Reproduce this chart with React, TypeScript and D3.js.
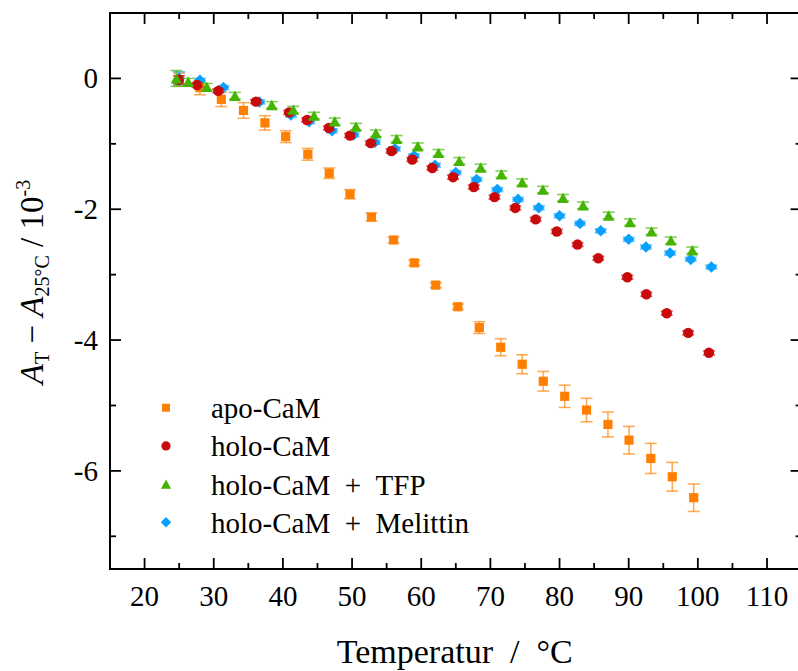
import React from "react";
import * as d3 from "d3";

// ---- data ----
const apoT = [25.0, 28.0, 31.1, 34.3, 37.4, 40.4, 43.6, 46.7, 49.7, 52.8, 56.0, 59.0, 62.1, 65.3, 68.4, 71.5, 74.6, 77.65, 80.75, 83.9, 87.0, 90.05, 93.2, 96.3, 99.4];
const apoY = [-0.02, -0.14, -0.32, -0.49, -0.68, -0.89, -1.16, -1.45, -1.77, -2.12, -2.47, -2.82, -3.16, -3.49, -3.81, -4.11, -4.37, -4.63, -4.86, -5.07, -5.29, -5.53, -5.81, -6.09, -6.41];
const apoErr = [0.1, 0.11, 0.11, 0.12, 0.11, 0.09, 0.09, 0.08, 0.07, 0.06, 0.045, 0.04, 0.04, 0.04, 0.09, 0.13, 0.145, 0.15, 0.17, 0.18, 0.19, 0.21, 0.23, 0.22, 0.21];

const holoT = [24.96, 27.6, 30.65, 36.1, 40.9, 43.5, 46.65, 49.7, 52.7, 55.7, 58.7, 61.6, 64.6, 67.6, 70.6, 73.6, 76.55, 79.6, 82.6, 85.6, 89.8, 92.55, 95.5, 98.6, 101.6];
const holoY = [-0.02, -0.1, -0.19, -0.355, -0.52, -0.635, -0.757, -0.874, -0.99, -1.11, -1.24, -1.37, -1.51, -1.66, -1.815, -1.98, -2.155, -2.34, -2.54, -2.75, -3.04, -3.3, -3.59, -3.89, -4.195];
const holoErr = [0.06, 0.03, 0.03, 0.03, 0.03, 0.03, 0.03, 0.03, 0.03, 0.03, 0.03, 0.03, 0.03, 0.03, 0.03, 0.03, 0.03, 0.03, 0.03, 0.03, 0.03, 0.03, 0.03, 0.03, 0.03];

const tfpT = [24.6, 26.3, 29.0, 33.06, 38.4, 41.5, 44.5, 47.5, 50.56, 53.45, 56.45, 59.5, 62.5, 65.5, 68.6, 71.6, 74.6, 77.6, 80.5, 83.4, 87.1, 90.2, 93.3, 96.1, 99.2];
const tfpY = [0.0, -0.05, -0.127, -0.264, -0.406, -0.477, -0.569, -0.656, -0.737, -0.839, -0.924, -1.037, -1.138, -1.26, -1.362, -1.465, -1.587, -1.7, -1.825, -1.94, -2.095, -2.197, -2.339, -2.476, -2.628];
const tfpErr = [0.12, 0.05, 0.05, 0.05, 0.05, 0.05, 0.05, 0.05, 0.05, 0.05, 0.05, 0.05, 0.05, 0.05, 0.05, 0.05, 0.05, 0.05, 0.05, 0.05, 0.05, 0.05, 0.05, 0.05, 0.05];

const melT = [25.0, 28.0, 31.4, 36.6, 41.15, 43.8, 47.1, 50.2, 53.3, 56.2, 58.95, 61.99, 65.0, 68.0, 71.0, 74.0, 77.0, 80.0, 82.96, 85.95, 90.0, 92.5, 95.98, 98.97, 101.95];
const melY = [0.0, -0.03, -0.14, -0.36, -0.56, -0.66, -0.8, -0.863, -0.976, -1.077, -1.184, -1.327, -1.44, -1.545, -1.7, -1.85, -1.977, -2.1, -2.217, -2.33, -2.46, -2.578, -2.67, -2.766, -2.883];
const melErr = [0.1, 0.03, 0.03, 0.03, 0.03, 0.03, 0.03, 0.03, 0.03, 0.03, 0.03, 0.03, 0.03, 0.03, 0.03, 0.03, 0.03, 0.03, 0.03, 0.03, 0.03, 0.03, 0.03, 0.03, 0.03];

const xMajorTicks = [20, 30, 40, 50, 60, 70, 80, 90, 100, 110];
const xMinorTicks = [25, 35, 45, 55, 65, 75, 85, 95, 105];
const yMajorTicks = [0, -2, -4, -6];
const yMinorTicks = [1, -1, -3, -5, -7];

const seriesNames = ["apo-CaM", "holo-CaM", "holo-CaM\u2002+\u2002TFP", "holo-CaM\u2002+\u2002Melittin"];

const W = 798;
const H = 671;
const left = 110;
const top = 13;
const right = 801.6;
const bottom = 569;

const FONT =
  '"Liberation Serif", Tinos, "Nimbus Roman", "Nimbus Roman No9 L", FreeSerif, "Times New Roman", Times, "Noto Serif", "DejaVu Serif", "Bitstream Vera Serif", Georgia, serif';

const COL = {
  apo: "#ff8000",
  holo: "#c80a0a",
  tfp: "#44b400",
  mel: "#0aa0ff",
};

function markerPath(shape: string, r: number): string {
  const p = d3.path();
  if (shape === "square") {
    p.rect(-r, -r, 2 * r, 2 * r);
  } else if (shape === "circle") {
    p.arc(0, 0, r, 0, Math.PI * 2);
  } else if (shape === "triangle") {
    p.moveTo(0, -r);
    p.lineTo(r * 1.1, r);
    p.lineTo(-r * 1.1, r);
    p.closePath();
  } else {
    p.moveTo(0, -r);
    p.lineTo(r, 0);
    p.lineTo(0, r);
    p.lineTo(-r, 0);
    p.closePath();
  }
  return p.toString();
}

export default function App() {
  const x = d3.scaleLinear().domain([15, 115]).range([left, right]);
  const y = d3.scaleLinear().domain([-7.5, 1]).range([bottom, top]);

  const series = [
    { key: "apo", T: apoT, Y: apoY, E: apoErr, color: COL.apo, shape: "square", r: 4.6, cap: 6 },
    { key: "mel", T: melT, Y: melY, E: melErr, color: COL.mel, shape: "diamond", r: 5.8, cap: 6 },
    { key: "holo", T: holoT, Y: holoY, E: holoErr, color: COL.holo, shape: "circle", r: 5.2, cap: 6 },
    { key: "tfp", T: tfpT, Y: tfpY, E: tfpErr, color: COL.tfp, shape: "triangle", r: 5.2, cap: 6 },
  ];

  const legend = [
    { color: COL.apo, shape: "square", r: 4 },
    { color: COL.holo, shape: "circle", r: 4.6 },
    { color: COL.tfp, shape: "triangle", r: 4.6 },
    { color: COL.mel, shape: "diamond", r: 5.2 },
  ];
  const legendY = d3.scaleLinear().domain([0, 3]).range([407.7, 522.3]);

  const txt = { fontFamily: FONT };

  return (
    <svg
      width={W}
      height={H}
      style={{ position: "absolute", left: 0, top: 0, background: "#fff", fontFamily: FONT }}
    >
      <rect x={0} y={0} width={W} height={H} fill="#fff" />
      {/* data */}
      {series.map((s) => (
        <g key={s.key}>
          {s.T.map((t, i) => {
            const cx = x(t);
            const y1 = y(s.Y[i] + s.E[i]);
            const y2 = y(s.Y[i] - s.E[i]);
            return (
              <g key={"e" + i} stroke={s.color} strokeOpacity={0.65} strokeWidth={1.6}>
                <line x1={cx} x2={cx} y1={y1} y2={y2} />
                <line x1={cx - s.cap} x2={cx + s.cap} y1={y1} y2={y1} />
                <line x1={cx - s.cap} x2={cx + s.cap} y1={y2} y2={y2} />
              </g>
            );
          })}
          {s.T.map((t, i) => (
            <path
              key={"m" + i}
              d={markerPath(s.shape, s.r)}
              transform={`translate(${x(t)},${y(s.Y[i])})`}
              fill={s.color}
            />
          ))}
        </g>
      ))}

      {/* frame */}
      <rect x={left} y={top} width={right - left} height={bottom - top} fill="none" stroke="#000" strokeWidth={2} />

      {/* ticks */}
      {xMajorTicks.map((t) => (
        <g key={"xM" + t} stroke="#000" strokeWidth={1.8}>
          <line x1={x(t)} x2={x(t)} y1={bottom} y2={bottom - 11} />
          <line x1={x(t)} x2={x(t)} y1={top} y2={top + 11} />
        </g>
      ))}
      {xMinorTicks.map((t) => (
        <g key={"xm" + t} stroke="#000" strokeWidth={1.8}>
          <line x1={x(t)} x2={x(t)} y1={bottom} y2={bottom - 6} />
          <line x1={x(t)} x2={x(t)} y1={top} y2={top + 6} />
        </g>
      ))}
      {yMajorTicks.map((t) => (
        <g key={"yM" + t} stroke="#000" strokeWidth={1.8}>
          <line x1={left} x2={left + 11} y1={y(t)} y2={y(t)} />
          <line x1={right} x2={right - 11} y1={y(t)} y2={y(t)} />
        </g>
      ))}
      {yMinorTicks.map((t) => (
        <g key={"ym" + t} stroke="#000" strokeWidth={1.8}>
          <line x1={left} x2={left + 6} y1={y(t)} y2={y(t)} />
          <line x1={right} x2={right - 6} y1={y(t)} y2={y(t)} />
        </g>
      ))}

      {/* tick labels */}
      {xMajorTicks.map((t) => (
        <text key={"xl" + t} x={x(t)} y={606} textAnchor="middle" fontSize={29} fill="#000" style={txt}>
          {String(t)}
        </text>
      ))}
      {yMajorTicks.map((t) => (
        <text key={"yl" + t} x={98} y={y(t) + 10} textAnchor="end" fontSize={29} fill="#000" style={txt}>
          {t === 0 ? "0" : "-" + Math.abs(t)}
        </text>
      ))}

      {/* axis titles */}
      <text x={(left + right) / 2 - 1} y={663} textAnchor="middle" fontSize={34} fill="#000" style={txt}>
        {"Temperatur\u2002/\u2002°C"}
      </text>
      <text
        transform={`translate(43,${(top + bottom) / 2 - 9}) rotate(-90)`}
        textAnchor="middle"
        fontSize={33}
        fill="#000"
        style={txt}
      >
        <tspan fontStyle="italic">A</tspan>
        <tspan fontSize={20} dy={6}>T</tspan>
        <tspan dy={-6}> − </tspan>
        <tspan fontStyle="italic">A</tspan>
        <tspan fontSize={20} dy={6}>25°C</tspan>
        <tspan dy={-6}> / 10</tspan>
        <tspan fontSize={20} dy={-13}>-3</tspan>
      </text>

      {/* legend */}
      {seriesNames.map((name, i) => (
        <g key={"lg" + i}>
          <path d={markerPath(legend[i].shape, legend[i].r)} transform={`translate(166,${legendY(i)})`} fill={legend[i].color} />
          <text x={211} y={legendY(i) + 10.5} fontSize={29} fill="#000" style={txt}>
            {name}
          </text>
        </g>
      ))}
    </svg>
  );
}
